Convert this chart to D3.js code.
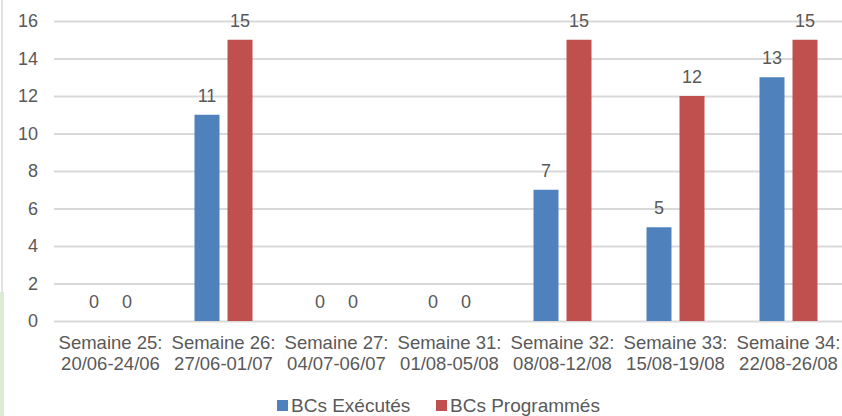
<!DOCTYPE html>
<html lang="fr">
<head>
<meta charset="utf-8">
<title>BCs par semaine</title>
<script src="https://cdn.jsdelivr.net/npm/d3@7"></script>
<style>
    body { margin: 0; background: #fff; }
    text { font-family: "Liberation Sans", Arial, sans-serif; fill: #595959; }
</style>
</head>
<body>
<div id="chart"></div>
<script>
// data
const semaines = ["Semaine 25:", "Semaine 26:", "Semaine 27:", "Semaine 31:", "Semaine 32:", "Semaine 33:", "Semaine 34:"];
const periodes = ["20/06-24/06", "27/06-01/07", "04/07-06/07", "01/08-05/08", "08/08-12/08", "15/08-19/08", "22/08-26/08"];
const executes = [0, 11, 0, 0, 7, 5, 13];
const programmes = [0, 15, 0, 0, 15, 12, 15];
const seriesNames = ["BCs Exécutés", "BCs Programmés"];
const yTicks = [0, 2, 4, 6, 8, 10, 12, 14, 16];

const W = 842, H = 416;
const plotLeft = 54, plotRight = 845, plotTop = 21, plotBottom = 321;
const colors = ["#4f81bd", "#c0504d"];

const svg = d3.select("#chart").append("svg")
    .attr("width", W)
    .attr("height", H);

// page border remnants
svg.append("line")
    .attr("x1", 2).attr("x2", 2).attr("y1", 0).attr("y2", 292)
    .attr("stroke", "#e3e3e3").attr("stroke-width", 2);
svg.append("rect")
    .attr("x", 0).attr("y", 292).attr("width", 4).attr("height", H - 292)
    .attr("fill", "#dcebd3");

const x = d3.scaleBand()
    .domain(semaines)
    .range([plotLeft, plotRight]);
const y = d3.scaleLinear()
    .domain([0, 16])
    .range([plotBottom, plotTop]);

// gridlines + y labels
const yAxis = svg.append("g")
    .attr("transform", "translate(" + plotLeft + ",0)")
    .call(d3.axisLeft(y).tickValues(yTicks).tickSize(-(W - plotLeft)).tickPadding(16));
yAxis.select(".domain").remove();
yAxis.selectAll("line").attr("stroke", "#d9d9d9").attr("stroke-width", 2);
yAxis.selectAll("text")
    .style("font-size", "18px")
    .attr("fill", "#595959");

const barW = 25, gap = 8;
const series = [executes, programmes];

series.forEach((vals, s) => {
    const off = s === 0 ? -gap / 2 - barW : gap / 2;
    const g = svg.append("g");
    g.selectAll("rect")
        .data(vals)
        .enter().append("rect")
        .attr("x", (d, i) => x(semaines[i]) + x.bandwidth() / 2 + off)
        .attr("width", barW)
        .attr("y", d => y(d))
        .attr("height", d => plotBottom - y(d))
        .attr("fill", colors[s]);
    g.selectAll("text")
        .data(vals)
        .enter().append("text")
        .attr("x", (d, i) => x(semaines[i]) + x.bandwidth() / 2 + off + barW / 2)
        .attr("y", d => y(d) - 13)
        .attr("text-anchor", "middle")
        .style("font-size", "18px")
        .text(d => d);
});

// category labels
const cat = svg.append("g");
semaines.forEach((s, i) => {
    const cx = x(s) + x.bandwidth() / 2;
    const t = cat.append("text")
        .attr("text-anchor", "middle")
        .style("font-size", "18.5px");
    t.append("tspan").attr("x", cx).attr("y", 349).text(s);
    t.append("tspan").attr("x", cx).attr("y", 370).text(periodes[i]);
});

// legend
const legendX = [277, 436];
seriesNames.forEach((n, i) => {
    svg.append("rect")
        .attr("x", legendX[i]).attr("y", 400)
        .attr("width", 11).attr("height", 11)
        .attr("fill", colors[i]);
    svg.append("text")
        .attr("x", legendX[i] + 14).attr("y", 412)
        .style("font-size", "19px")
        .text(n);
});
</script>
</body>
</html>
